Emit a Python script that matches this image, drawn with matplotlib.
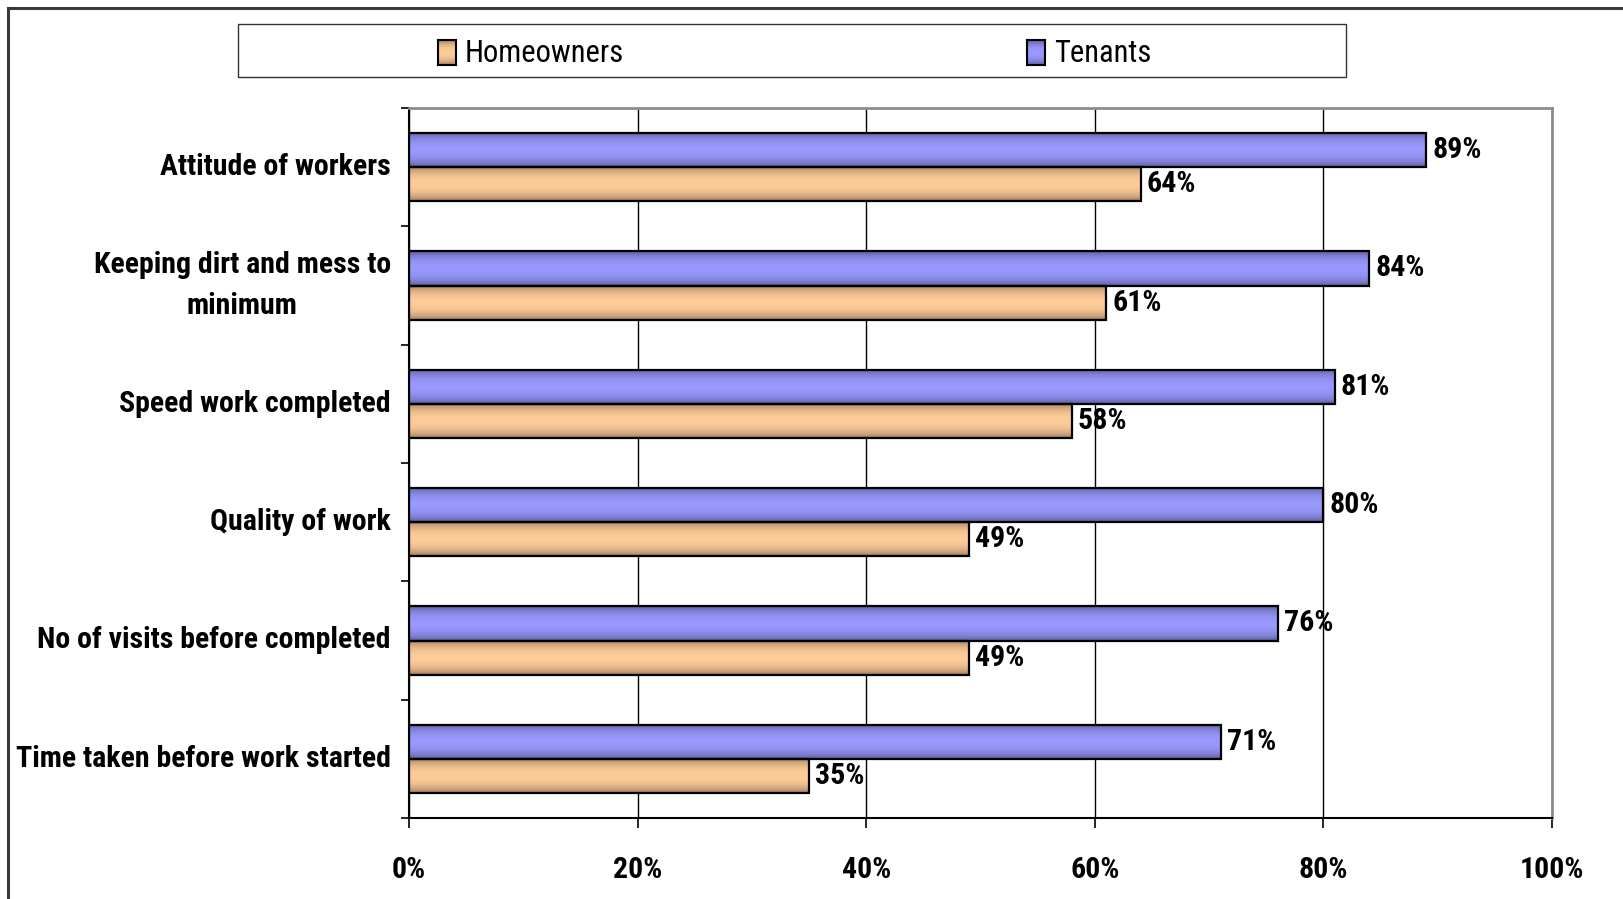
import numpy as np
import matplotlib
matplotlib.use("Agg")
import matplotlib.pyplot as plt
import matplotlib.transforms as mtransforms
from matplotlib import font_manager
from matplotlib.patches import Rectangle
from matplotlib.lines import Line2D
from matplotlib.colors import to_rgb

# ---- data -------------------------------------------------------------
categories = [
    "Attitude of workers",
    "Keeping dirt and mess to\nminimum",
    "Speed work completed",
    "Quality of work",
    "No of visits before completed",
    "Time taken before work started",
]
series_names = ["Homeowners", "Tenants"]
homeowners = [64, 61, 58, 49, 49, 35]
tenants = [89, 84, 81, 80, 76, 71]
x_ticks = [0, 20, 40, 60, 80, 100]
x_tick_labels = ["0%", "20%", "40%", "60%", "80%", "100%"]

colors = {"Homeowners": "#FFCC99", "Tenants": "#9999FF"}

# ---- fonts: prefer a narrow sans ----------------------------------------
names = {f.name for f in font_manager.fontManager.ttflist}
FS, FS_B = 19, 19
FONT = ["Liberation Sans", "DejaVu Sans"]
for cand, size, size_b in [("Liberation Sans Narrow", 23, 23),
                           ("Roboto Condensed", 22, 21.5),
                           ("Open Sans Condensed", 22, 21.5)]:
    if cand in names:
        FONT = [cand, "DejaVu Sans"]
        FS, FS_B = size, size_b
        break
plt.rcParams["font.family"] = FONT

W, H = 1624, 899
fig = plt.figure(figsize=(W / 100, H / 100), dpi=100)


def fx(px):
    return px / W


def fy(py):
    return 1 - py / H


ax = fig.add_axes([fx(409), fy(818), fx(1552) - fx(409), fy(108) - fy(818)])


def gradient(base, n=64):
    t = np.linspace(0, 1, n)
    f = 0.50 + 0.50 * np.sin(np.pi * t) ** 0.5
    rgb = np.array(to_rgb(base))
    return (f[:, None] * rgb[None, :])[:, None, :]


bar_h = 0.29
y = np.arange(len(categories))
series = [("Tenants", tenants, -bar_h / 2), ("Homeowners", homeowners, bar_h / 2)]

for name, vals, off in series:
    img = gradient(colors[name])
    for yi, v in zip(y, vals):
        yc = yi + off
        ax.imshow(img, extent=[0, v, yc + bar_h / 2, yc - bar_h / 2],
                  aspect="auto", interpolation="bilinear", zorder=2)
    ax.barh(y + off, vals, height=bar_h, facecolor="none",
            edgecolor="black", linewidth=1.6, zorder=3)
    for yi, v in zip(y, vals):
        ax.annotate(f"{v}%", xy=(v, yi + off), xytext=(6, 0),
                    textcoords="offset pixels", va="center", ha="left",
                    fontsize=FS_B, fontweight="bold", zorder=4)

ax.set_xlim(0, 100)
ax.set_ylim(len(categories) - 0.5, -0.5)

# grid
ax.set_xticks(x_ticks)
ax.set_xticklabels(x_tick_labels, fontsize=FS_B, fontweight="bold")
ax.xaxis.grid(True, color="black", linewidth=1.0, zorder=1)
ax.set_axisbelow(True)
ax.tick_params(axis="x", direction="out", length=7, width=1.2, pad=20)

ax.set_yticks(y)
ax.set_yticklabels(categories, fontsize=FS_B, fontweight="bold",
                   multialignment="center", linespacing=1.55)
nudge = mtransforms.ScaledTranslation(0, -2 / 100, fig.dpi_scale_trans)
for lbl in ax.get_yticklabels():
    lbl.set_verticalalignment("center")
    lbl.set_transform(lbl.get_transform() + nudge)
ax.set_yticks(np.arange(-0.5, len(categories)), minor=True)
ax.tick_params(axis="y", which="major", length=0, pad=13)
ax.tick_params(axis="y", which="minor", length=6, width=1.2, direction="out")

for side in ("top", "right"):
    ax.spines[side].set_color("#8c8c8c")
    ax.spines[side].set_linewidth(2.0)
for side in ("left", "bottom"):
    ax.spines[side].set_color("black")
    ax.spines[side].set_linewidth(1.5)

# ---- legend -------------------------------------------------------------
fig.patches.append(Rectangle((fx(238), fy(77)), fx(1346) - fx(238), fy(24) - fy(77),
                             transform=fig.transFigure, facecolor="white",
                             edgecolor="#333333", linewidth=1.0, zorder=1))
legend_pos = {"Homeowners": 438, "Tenants": 1027}
for name in series_names:
    x0 = legend_pos[name]
    sw = fig.add_axes([fx(x0), fy(65), fx(18), fy(40) - fy(65)])
    sw.set_zorder(5)
    sw.imshow(gradient(colors[name]), aspect="auto", interpolation="bilinear")
    sw.set_xticks([])
    sw.set_yticks([])
    for s in sw.spines.values():
        s.set_linewidth(1.5)
    fig.text(fx(x0 + 27), fy(54), name, fontsize=FS, va="center", ha="left",
             zorder=6)

# ---- outer frame --------------------------------------------------------
fig.lines.append(Line2D([fx(8), fx(8)], [fy(8), 0], transform=fig.transFigure,
                        color="#3a3a3a", linewidth=2.2))
fig.lines.append(Line2D([fx(8), 1], [fy(8), fy(8)], transform=fig.transFigure,
                        color="#3a3a3a", linewidth=2.2))

fig.savefig("out.png", dpi=100)
